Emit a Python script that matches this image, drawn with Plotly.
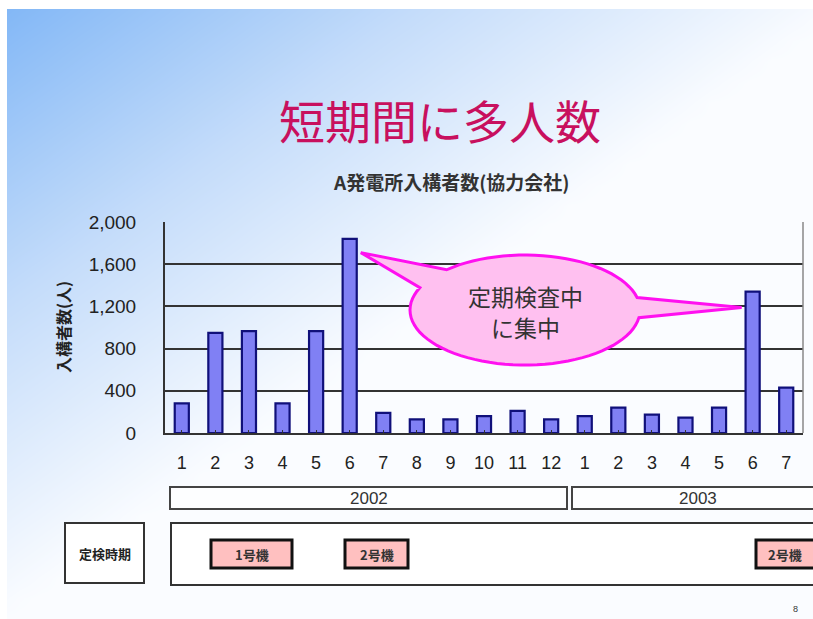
import numpy as np
import plotly.graph_objects as go

# ---------------- data ----------------
months = ["1", "2", "3", "4", "5", "6", "7", "8", "9", "10", "11", "12",
          "1", "2", "3", "4", "5", "6", "7"]
visitors = [280, 950, 965, 280, 965, 1840, 190, 130, 130, 160, 210, 130,
            160, 240, 175, 145, 240, 1340, 430]
y_ticks = [0, 400, 800, 1200, 1600, 2000]
years = ["2002", "2003"]
units = ["1号機", "2号機", "2号機"]

W, H = 813, 619
XD = [165 / W, 803 / W]
YD = [(H - 433) / H, (H - 222) / H]
YMAX = 2000


def to_px(i, v):
    """map (category index, value) of the bar axes to page pixels"""
    n = len(months)
    fx = XD[0] + (i + 0.5) / n * (XD[1] - XD[0])
    fy = YD[0] + v / YMAX * (YD[1] - YD[0])
    return fx * W, (1 - fy) * H


fig = go.Figure()

# ---------------- background gradient (style only) ----------------
gx = np.linspace(0, W, 41)
gy = np.linspace(0, H, 31)
GX, GY = np.meshgrid(gx, gy)
gz = np.clip(1 - 0.95 * GX / W - 1.0 * GY / H, 0, 1)
fig.add_trace(go.Heatmap(
    x=gx, y=gy, z=gz, zsmooth="best", showscale=False, hoverinfo="skip",
    zmin=0, zmax=1,
    colorscale=[[0, "#FAFCFF"], [0.5, "#C4DCFA"], [1, "#80B6F6"]],
    xaxis="x", yaxis="y"))

# ---------------- bars ----------------
fig.add_trace(go.Bar(
    x=list(range(len(months))), y=visitors, width=0.42,
    marker=dict(color="#8080F4", line=dict(color="#10107A", width=2.2)),
    xaxis="x2", yaxis="y2", hoverinfo="y"))

fig.update_layout(
    width=W, height=H, margin=dict(l=0, r=0, t=0, b=0, pad=0, autoexpand=False),
    paper_bgcolor="white", plot_bgcolor="rgba(0,0,0,0)",
    showlegend=False,
    font=dict(family="Liberation Sans, Noto Sans CJK JP", color="#222"),
    xaxis=dict(domain=[0, 1], range=[0, W], visible=False, fixedrange=True),
    yaxis=dict(domain=[0, 1], range=[H, 0], visible=False, fixedrange=True),
    xaxis2=dict(domain=XD, anchor="y2", range=[-0.5, len(months) - 0.5],
                tickvals=list(range(len(months))), ticktext=months,
                tickson="boundaries", ticks="inside", ticklen=3,
                tickcolor="#333", showgrid=False,
                showline=True, linecolor="#333", linewidth=2,
                tickfont=dict(size=18, color="#222"),
                ticklabelstandoff=12),
    yaxis2=dict(domain=YD, anchor="x2", range=[0, YMAX],
                tickvals=y_ticks, tickformat=",d",
                showgrid=True, gridcolor="#333", gridwidth=2,
                showline=True, linecolor="#333", linewidth=2,
                zeroline=False, ticks="",
                tickfont=dict(size=19, color="#222"),
                ticklabelstandoff=23),
)

# right border of plot area
fig.add_shape(type="line", xref="x2 domain", yref="y2 domain",
              x0=1, x1=1, y0=0, y1=1, line=dict(color="#888", width=1.5))

# white frame strips (top/left)
fig.add_shape(type="rect", xref="x", yref="y", x0=0, x1=W, y0=0, y1=9,
              fillcolor="white", line=dict(width=0), layer="above")
fig.add_shape(type="rect", xref="x", yref="y", x0=0, x1=7, y0=0, y1=H,
              fillcolor="white", line=dict(width=0), layer="above")

# ---------------- titles ----------------
fig.add_annotation(xref="x", yref="y", x=440, y=119, text="短期間に多人数",
                   showarrow=False,
                   font=dict(family="Noto Sans CJK JP", size=46, color="#C8105E"))
fig.add_annotation(xref="x", yref="y", x=451, y=181,
                   text="<b>A発電所入構者数(協力会社)</b>", showarrow=False,
                   font=dict(family="Noto Sans CJK JP", size=19, color="#333"))
fig.add_annotation(xref="x", yref="y", x=63, y=327, text="<b>入構者数(人)</b>",
                   textangle=-90, showarrow=False,
                   font=dict(family="Noto Sans CJK JP", size=16, color="#222"))

# ---------------- callout ----------------
cx, cy, rx, ry = 525, 310, 115, 55
tip1 = to_px(5 + 0.33, visitors[5] - 130)
tip2 = to_px(17 - 0.33, visitors[17] - 150)


def ell(a):
    r = np.deg2rad(a)
    return cx + rx * np.cos(r), cy + ry * np.sin(r)


pts = [ell(a) for a in np.arange(8, 205, 4)]
pts.append(tip1)
pts += [ell(a) for a in np.arange(227, 349, 4)]
pts.append(tip2)
path = "M " + " L ".join(f"{x:.1f},{y:.1f}" for x, y in pts) + " Z"
fig.add_shape(type="path", xref="x", yref="y", path=path,
              fillcolor="#FFC0F0", line=dict(color="#FF10F0", width=3),
              layer="above")
for txt, ty in [("定期検査中", 296), ("に集中", 327)]:
    fig.add_annotation(xref="x", yref="y", x=cx, y=ty, text=txt, showarrow=False,
                       font=dict(family="Noto Sans CJK JP", size=23, color="#333"))

# ---------------- year boxes ----------------
year_spans = [(170, 567), (572, 830)]
for yr, (x0, x1) in zip(years, year_spans):
    fig.add_shape(type="rect", xref="x", yref="y", x0=x0, x1=x1, y0=487, y1=509,
                  line=dict(color="#444", width=2), fillcolor="rgba(255,255,255,0.6)",
                  layer="above")
    fig.add_annotation(xref="x", yref="y", x=(x0 + min(x1, W)) / 2 + (0 if x1 < W else 5),
                       y=498, text=yr, showarrow=False,
                       font=dict(size=17, color="#333"))

# ---------------- inspection period ----------------
fig.add_shape(type="rect", xref="x", yref="y", x0=65, x1=144, y0=523, y1=583,
              line=dict(color="#333", width=2), fillcolor="white", layer="above")
fig.add_annotation(xref="x", yref="y", x=104.5, y=553, text="<b>定検時期</b>",
                   showarrow=False,
                   font=dict(family="Noto Sans CJK JP", size=13, color="#222"))
fig.add_shape(type="rect", xref="x", yref="y", x0=171, x1=830, y0=523, y1=585,
              line=dict(color="#333", width=2), fillcolor="white", layer="above")
unit_spans = [(211, 292), (345, 408), (756, 830)]
for u, (x0, x1) in zip(units, unit_spans):
    fig.add_shape(type="rect", xref="x", yref="y", x0=x0, x1=x1, y0=540, y1=568,
                  line=dict(color="#111", width=3), fillcolor="#FFC0C0",
                  layer="above")
    fig.add_annotation(xref="x", yref="y", x=(x0 + min(x1, W + 2)) / 2 - (0 if x1 < W else 1),
                       y=554, text="<b>" + u + "</b>", showarrow=False,
                       font=dict(family="Noto Sans CJK JP", size=13, color="#333"))

fig.add_annotation(xref="x", yref="y", x=795, y=609, text="8", showarrow=False,
                   font=dict(size=9, color="#333"))

fig.write_html("out.html")
